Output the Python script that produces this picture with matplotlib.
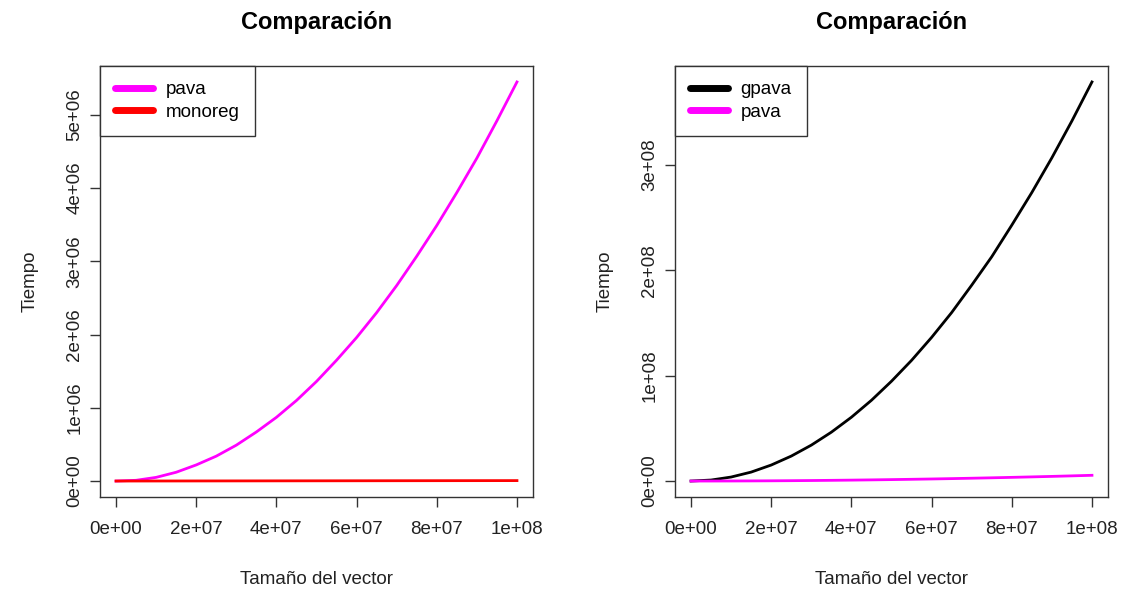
import matplotlib
matplotlib.use("Agg")
import matplotlib.pyplot as plt
from matplotlib.lines import Line2D
import numpy as np

plt.rcParams["font.family"] = ["Liberation Sans", "DejaVu Sans"]

# vector sizes (x) and run times
tamano = [0, 5e6, 1e7, 1.5e7, 2e7, 2.5e7, 3e7, 3.5e7, 4e7, 4.5e7, 5e7,
          5.5e7, 6e7, 6.5e7, 7e7, 7.5e7, 8e7, 8.5e7, 9e7, 9.5e7, 1e8]
pava = [0, 0.01e6, 0.05e6, 0.12e6, 0.22e6, 0.34e6, 0.49e6, 0.67e6, 0.87e6,
        1.10e6, 1.36e6, 1.65e6, 1.96e6, 2.30e6, 2.67e6, 3.07e6, 3.49e6,
        3.94e6, 4.41e6, 4.92e6, 5.45e6]
monoreg = [0, 300, 600, 900, 1200, 1500, 1800, 2100, 2400, 2700, 3000,
           3300, 3600, 3900, 4200, 4500, 4800, 5100, 5400, 5700, 6000]
gpava = [0, 0.0095e8, 0.038e8, 0.085e8, 0.152e8, 0.237e8, 0.341e8, 0.464e8,
         0.606e8, 0.767e8, 0.948e8, 1.146e8, 1.364e8, 1.60e8, 1.86e8,
         2.13e8, 2.43e8, 2.74e8, 3.07e8, 3.42e8, 3.79e8]

x_ticks = [0, 2e7, 4e7, 6e7, 8e7, 1e8]
y_ticks_left = [0, 1e6, 2e6, 3e6, 4e6, 5e6]
y_ticks_right = [0, 1e8, 2e8, 3e8]

W, H = 1123, 589
fig = plt.figure(figsize=(W / 100, H / 100), dpi=100)


def r_label(v):
    return f"{v:.0e}"


def make_panel(left_px, series, yticks):
    ax = fig.add_axes([left_px / W, 1 - 497 / H, 433 / W, 431 / H])
    for y, col in series:
        ax.plot(tamano, y, color=col, lw=2.0)

    # R style padding of 4% on both axes
    allv = np.concatenate([np.asarray(s[0]) for s in series])
    lo, hi = allv.min(), allv.max()
    ax.set_ylim(lo - 0.04 * (hi - lo), hi + 0.04 * (hi - lo))
    ax.set_xlim(-0.04e8, 1.04e8)

    ax.set_xticks(x_ticks)
    ax.set_xticklabels([r_label(v) for v in x_ticks])
    ax.set_yticks(yticks)
    ax.set_yticklabels([r_label(v) for v in yticks], rotation=90, va="center")
    ax.tick_params(direction="out", length=7, width=1, labelsize=13.5,
                   color="#333333", labelcolor="#222222")
    ax.tick_params(axis="x", pad=10)
    ax.tick_params(axis="y", pad=5)
    for s in ax.spines.values():
        s.set_color("#333333")
        s.set_linewidth(1)

    ax.set_title("Comparación", fontsize=17, fontweight="bold", pad=27)
    ax.set_xlabel("Tamaño del vector", fontsize=13.5, labelpad=24,
                  color="#222222")
    ax.set_ylabel("Tiempo", fontsize=13.5, labelpad=20, color="#222222")
    return ax


ax1 = make_panel(100, [(pava, "#ff00ff"), (monoreg, "#ff0000")], y_ticks_left)
ax2 = make_panel(675, [(gpava, "black"), (pava, "#ff00ff")], y_ticks_right)

for ax, names, cols in [(ax1, ["pava", "monoreg"], ["#ff00ff", "#ff0000"]),
                        (ax2, ["gpava", "pava"], ["black", "#ff00ff"])]:
    handles = [Line2D([], [], color=c, lw=5, solid_capstyle="round")
               for c in cols]
    leg = ax.legend(handles, names, loc="upper left", borderaxespad=0,
                    fancybox=False, fontsize=13.5, handlelength=2.0,
                    handletextpad=0.7, labelspacing=0.3, borderpad=0.8,
                    framealpha=1)
    leg.get_frame().set_edgecolor("#333333")
    leg.get_frame().set_linewidth(1)

fig.savefig("out.png", dpi=100)
